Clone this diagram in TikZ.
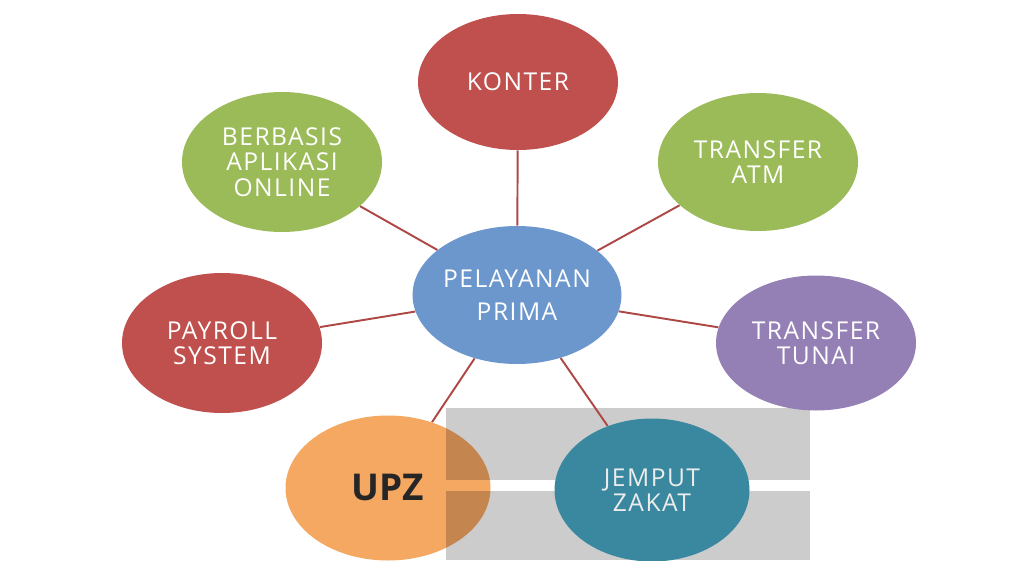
\documentclass[tikz,border=0pt]{standalone}
\usepackage{fontspec}
\setmainfont{Open Sans}
\newfontfamily\lebar[LetterSpace=6]{Open Sans}
\usepackage{xcolor}
\usetikzlibrary{shapes.geometric, positioning}

\definecolor{merah}{RGB}{192,80,77}
\definecolor{hijau}{RGB}{155,187,89}
\definecolor{biru}{RGB}{108,151,204}
\definecolor{ungu}{RGB}{149,128,182}
\definecolor{oranye}{RGB}{245,168,98}
\definecolor{toska}{RGB}{58,136,159}
\definecolor{abu}{RGB}{204,204,204}

\begin{document}
\begin{tikzpicture}[
            layanan/.style={ellipse, draw=none, minimum width=4cm, minimum height=2.76cm, inner sep=0pt,
                            align=center, text=white, font=\lebar\fontsize{14}{14.5}\selectfont},
            garis/.style={draw=merah!90!black, line width=1.1pt}
        ]
            \useasboundingbox (0,0) rectangle (20.44,-11.2);
            \clip (0,0) rectangle (20.44,-11.2);

            \node[layanan, fill=oranye, minimum width=4.1cm, minimum height=2.9cm, text={black!85},
                  font=\fontsize{21}{24}\selectfont\bfseries] (upz) at (7.76,-9.76) {UPZ};

            % latar abu-abu di bawah
            \begin{scope}[blend mode=multiply]
            \fill[abu] (8.92,-8.16) rectangle (16.2,-9.6);
            \fill[abu] (8.92,-9.82) rectangle (16.2,-11.2);
            \end{scope}

            \node[layanan, fill=biru, minimum width=3.96cm, font=\lebar\fontsize{14}{18.5}\selectfont] (pusat) at (10.34,-5.9) {PELAYANAN\\PRIMA};
            \node[layanan, fill=merah, minimum height=2.72cm] (konter) at (10.36,-1.64) {KONTER};
            \node[layanan, fill=hijau, minimum height=2.8cm] (aplikasi) at (5.64,-3.24) {BERBASIS\\APLIKASI\\ONLINE};
            \node[layanan, fill=hijau] (atm) at (15.16,-3.24) {TRANSFER\\ATM};
            \node[layanan, fill=merah, minimum height=2.8cm] (payroll) at (4.44,-6.86) {PAYROLL\\SYSTEM};
            \node[layanan, fill=ungu, minimum height=2.7cm] (tunai) at (16.32,-6.86) {TRANSFER\\TUNAI};
            \node[layanan, fill=toska, minimum width=3.9cm, minimum height=2.86cm, text={white!85!gray}] (jemput) at (13.04,-9.8) {JEMPUT\\ZAKAT};

            \draw[garis] (pusat) -- (konter);
            \draw[garis] (pusat) -- (aplikasi);
            \draw[garis] (pusat) -- (atm);
            \draw[garis] (pusat) -- (payroll);
            \draw[garis] (pusat) -- (tunai);
            \draw[garis] (pusat) -- (upz);
            \draw[garis] (pusat) -- (jemput);
        \end{tikzpicture}
\end{document}
